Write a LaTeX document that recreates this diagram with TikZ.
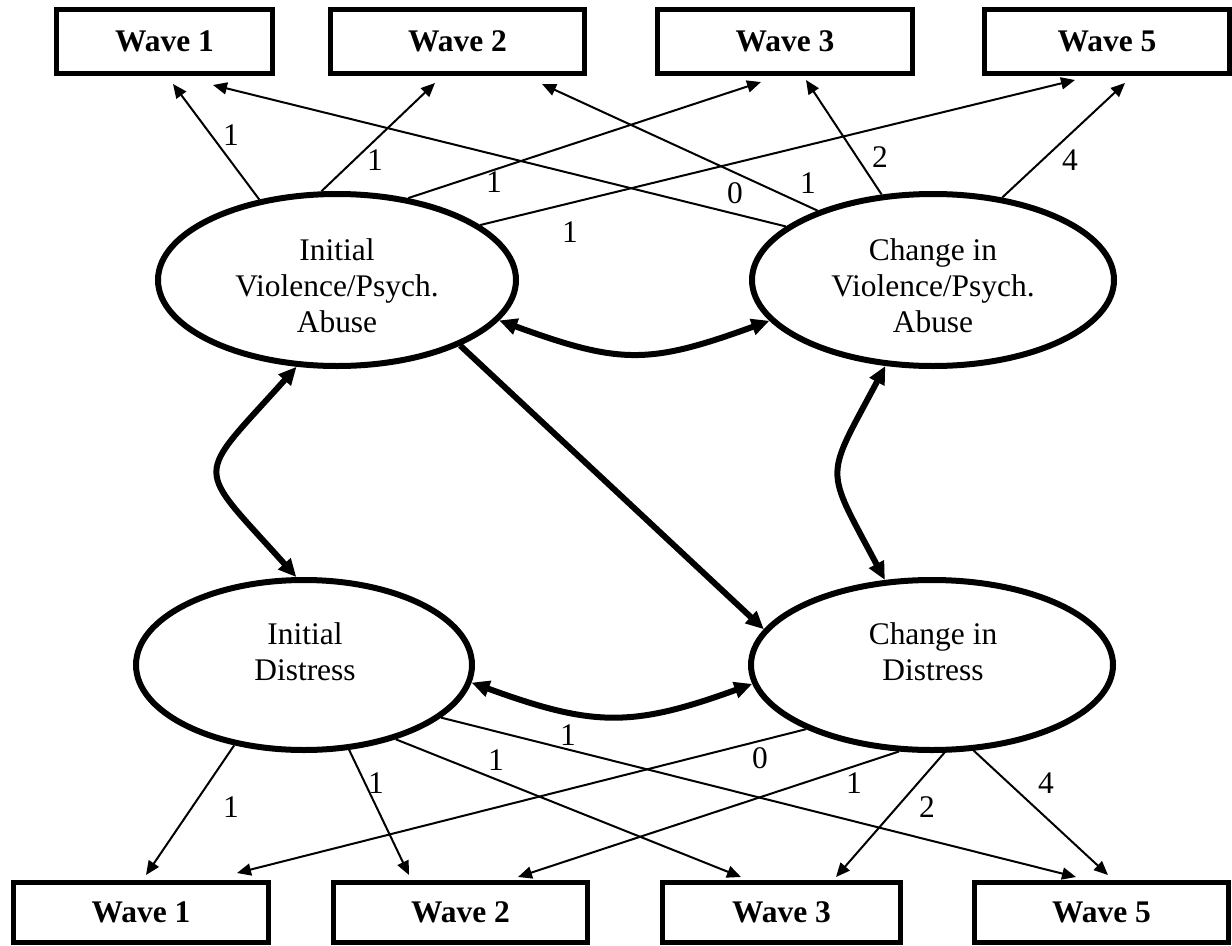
\documentclass[tikz,border=0pt]{standalone}
\usepackage{fontspec}
\setmainfont{Liberation Serif}
\usetikzlibrary{arrows.meta,shapes.geometric}
\begin{document}
\begin{tikzpicture}[x=0.75pt,y=-0.75pt,
  latent/.style={draw, ellipse, line width=4.5pt, inner sep=0pt},
  etext/.style={align=center, inner sep=0pt, font=\fontsize{23.6}{27}\selectfont},
  obs/.style={draw, rectangle, line width=3.75pt, inner sep=0pt, font=\fontsize{23.6}{27}\selectfont\bfseries},
  lab/.style={inner sep=0pt, font=\fontsize{23.6}{27}\selectfont},
  load/.style={line width=1.5pt, -{Triangle[length=10.5pt,width=9pt]}},
  cov/.style={line width=4.5pt, {Triangle[length=13.5pt,width=12pt]}-{Triangle[length=13.5pt,width=12pt]}},
  reg/.style={line width=4.5pt, -{Triangle[length=13.5pt,width=12pt]}}
]
\useasboundingbox (0,0) rectangle (1232,946);

% observed boxes
\node[obs, minimum width=162pt, minimum height=48pt] (T1) at (164.5,41.5) {Wave 1};
\node[obs, minimum width=190.5pt, minimum height=48pt] (T2) at (457.5,41.5) {Wave 2};
\node[obs, minimum width=191.25pt, minimum height=48pt] (T3) at (785,41.5) {Wave 3};
\node[obs, minimum width=183.75pt, minimum height=48pt] (T5) at (1107,41.5) {Wave 5};

\node[obs, minimum width=191.25pt, minimum height=45pt] (B1) at (141,912.5) {Wave 1};
\node[obs, minimum width=190.5pt, minimum height=45pt] (B2) at (460.5,912.5) {Wave 2};
\node[obs, minimum width=178.5pt, minimum height=45pt] (B3) at (781.5,912.5) {Wave 3};
\node[obs, minimum width=190.5pt, minimum height=45pt] (B5) at (1101.5,912.5) {Wave 5};

% latent ellipses
\node[latent, minimum width=268.5pt, minimum height=129pt] (IV) at (337,280) {};
\node[latent, minimum width=271.5pt, minimum height=129pt] (CV) at (933,280) {};
\node[latent, minimum width=252pt, minimum height=127.5pt] (ID) at (304,665) {};
\node[latent, minimum width=271.5pt, minimum height=127.5pt] (CD) at (932,665) {};

\node[etext] (IVt) at (337,286) {Initial\\Violence/Psych.\\Abuse};
\node[etext] (CVt) at (933,286) {Change in\\Violence/Psych.\\Abuse};
\node[etext] (IDt) at (305,651.5) {Initial\\Distress};
\node[etext] (CDt) at (933,651.5) {Change in\\Distress};

% loadings, top
\draw[load] (IV.134) -- ([shift={(8.5,8)}]T1.south);
\draw[load] (IV.100.7) -- ([shift={(-22.5,7)}]T2.south);
\draw[load] (IV.49.3) -- ([shift={(-24,6)}]T3.south);
\draw[load] (IV.21.8) -- ([shift={(-32,4)}]T5.south);
\draw[load] (CV.160.2) -- ([shift={(48.5,9)}]T1.south);
\draw[load] (CV.149.5) -- ([shift={(84.5,8)}]T2.south);
\draw[load] (CV.121.8) -- ([shift={(21,4)}]T3.south);
\draw[load] (CV.50.9) -- ([shift={(18,7)}]T5.south);

% loadings, bottom
\draw[load] (ID.-131.2) -- ([shift={(5,-5)}]B1.north);
\draw[load] (ID.-62.9) -- ([shift={(-51.5,-5)}]B2.north);
\draw[load] (ID.-39.7) -- ([shift={(-40.5,-3)}]B3.north);
\draw[load] (ID.-21) -- ([shift={(-25.5,-3)}]B5.north);
\draw[load] (CD.-153.1) -- ([shift={(96,-7)}]B1.north);
\draw[load] (CD.-111.6) -- ([shift={(57.5,-3)}]B2.north);
\draw[load] (CD.-82) -- ([shift={(54.5,-3)}]B3.north);
\draw[load] (CD.-64.5) -- ([shift={(6.5,-5)}]B5.north);

% covariances and regression
\draw[cov] (IV.-14.3) .. controls +(121,44) and +(-121,44) .. (CV.-166.7);
\draw[cov] (ID.-6.6) .. controls +(121,44) and +(-121,44) .. (CD.186.9);
\draw[cov] (IV.-115.8) .. controls +(-103,115) and +(-103,-115) .. (ID.95);
\draw[cov] (CV.-119.6) .. controls +(-61,115) and +(-61,-115) .. (CD.119.5);
\draw[reg] (IV.-28.3) -- (CD.168.1);

% loading labels
\node[lab] (a1) at (231,135) {1};
\node[lab] (a2) at (375,160) {1};
\node[lab] (a3) at (494,182) {1};
\node[lab] (a5) at (570,232) {1};
\node[lab] (b1) at (735,193) {0};
\node[lab] (b2) at (808,183) {1};
\node[lab] (b3) at (880,157) {2};
\node[lab] (b5) at (1070,160) {4};

\node[lab] (c1) at (231,807) {1};
\node[lab] (c2) at (376,783) {1};
\node[lab] (c3) at (496,760) {1};
\node[lab] (c5) at (568,735) {1};
\node[lab] (d1) at (760,758) {0};
\node[lab] (d2) at (854,783) {1};
\node[lab] (d3) at (927,807) {2};
\node[lab] (d5) at (1046,783) {4};
\end{tikzpicture}
\end{document}
